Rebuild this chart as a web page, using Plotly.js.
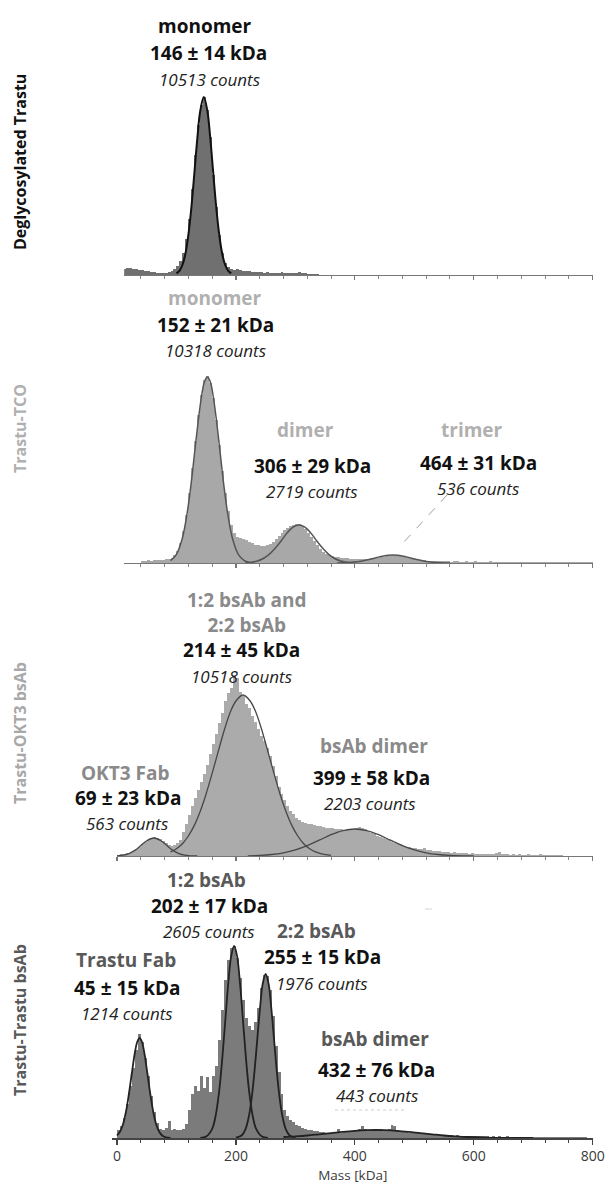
<!DOCTYPE html>
<html><head><meta charset="utf-8">
<script src="https://cdn.plot.ly/plotly-3.0.1.min.js"></script>
<style>html,body{margin:0;padding:0;background:#fff}#chart{width:606px;height:1184px}</style>
</head><body><div id="chart"></div>
<script>
// ---------------- DATA ----------------
const massTicks = [0, 200, 400, 600, 800];
const binWidth = 5;                 // kDa per histogram bin
const firstBinCenter = [12.5, 42.5, 2.5, 2.5];

// histogram heights (relative counts) per panel
const histDeglyco = [6,7,7,6,6,5,5,4,4,3, 3,2,2,2,2,3,4,6,9,14,
  22,36,56,86,120,150,170,178,165,138, 100,68,40,22,12,8,6,5,6,5,
  4,4,4,3,3,3,3,2,3,2, 2,2,2,3,2,2,2,2,2,3, 2,2,1,1,1,1];
const histTCO = [2,2,3,2,3,3,3,3,4,4, 5,8,12,20,32,48,70,95,122,148,
  168,183,187,180,165,143,118,92,70,52, 38,30,26,25,24,23,21,20,18,18,
  17,17,18,19,21,24,27,30,33,35, 37,38,39,39,37,34,30,26,22,18,
  14,11,9,8,7,6,6,5,5,5, 4,4,4,4,4,4,4,5,5,5,
  6,6,7,7,8,8,7,7,6,6, 5,4,4,3,3,3,2,2,2,2,
  2,2,2,2,1,2,2,1,1,2, 1,1,2,1,1,1,1,2,1,1,
  1,1,1,1,1,1,1,1,1,1, 1,1,1,1,1,1,1,1,1,1, 1,1,1,1,1,1,1,1,1,1,1,1];
const histOKT3 = [1,2,2,3,3,5,7,9,12,14, 16,18,19,18,17,15,13,11,10,11,
  13,16,24,32,41,50,58,66,74,82, 91,102,112,122,133,143,155,163,168,181,
  178,164,160,152,148,140,134,127,120,115, 108,100,90,80,69,62,56,50,45,42,
  38,36,34,33,32,32,31,30,30,29, 28,28,28,27,27,27,26,27,27,27,
  28,29,28,27,25,23,22,20,19,18, 17,16,14,13,12,12,10,9,9,8,
  8,7,7,8,6,6,5,5,5,4, 4,4,3,4,3,3,3,3,2,3,
  2,2,2,2,2,2,2,3,4,2, 2,2,1,2,1,2,1,1,2,1, 1,1,2,1,1,1,1,1,1,1];
const histTrastu = [8,12,20,34,52,70,88,104,96,80, 62,42,26,15,9,8,10,17,8,9,
  8,8,9,14,28,44,52,47,62,50, 61,46,62,72,98,128,158,178,190,192,
  180,160,138,120,112,108,116,130,150,163, 162,148,122,92,66,44,28,22,18,16,
  13,12,10,9,8,8,7,7,6,6, 5,5,5,6,9,5,6,6,7,7,
  8,9,12,9,8,7,8,8,9,8, 8,9,13,12,8,7,6,6,5,6,
  5,5,4,4,4,4,3,3,3,3, 3,3,3,2,3,2,2,2,2,2,
  2,2,2,2,2,1,2,1,2,1, 1,2,1,1,1,1,1,1,1,1,
  1,1,1,1,1,1,1,1,1,1, 1,1,1,1,1,1,1,1,0,0];

// Gaussian fit curves: [mass kDa], [height]
const fitMonoDeglyco = {x:[100,105,110,115,120,125,130,135,140,146,152,157,162,167,172,177,182,187,192],
  y:[1.6,4.2,10,21,40,67,101,136,164,178,164,136,101,67,40,21,10,4.2,1.6]};
const fitMonoTCO = {x:[90,100,110,118,125,131,137,142,147,152,157,162,167,173,179,186,194,204,214,222],
  y:[2.4,8.7,25,50,81,113,144,166,181,186,181,166,144,113,81,50,25,8.7,2.4,0.7]};
const fitDimerTCO = {x:[216,226,236,246,256,266,276,286,296,306,316,326,336,346,356,366,376,386,396],
  y:[0.3,0.8,2,4.5,8.6,14.7,22,30,35.8,38,35.8,30,22,14.7,8.6,4.5,2,0.8,0.3]};
const fitTrimerTCO = {x:[370,390,404,424,444,464,484,504,524,544,560],
  y:[0.1,0.5,1.2,3.5,6.5,8,6.5,3.5,1.2,0.3,0.1]};
const fitFabOKT3 = {x:[0,10,20,30,40,50,62,74,84,94,104,114,124,135],
  y:[0.2,0.8,2.4,5.6,10.4,15.3,18,15.3,10.4,5.6,2.4,0.8,0.2,0]};
const fitMainOKT3 = {x:[90,100,110,120,130,140,150,160,170,180,190,200,212,224,234,244,254,264,274,284,294,304,314,324,334,344,360],
  y:[4.1,7.3,12.3,20,30.6,44.8,62.3,82.6,104,125,143,155,161,155,143,125,104,82.6,62.3,44.8,30.6,20,12.3,7.3,4.1,2.2,0.7]};
const fitDimerOKT3 = {x:[220,240,260,280,300,320,340,360,380,400,420,440,460,480,500,520,540,560,580,600],
  y:[0.2,0.6,1.5,3.2,6.1,10.4,15.8,21.3,25.4,27,25.4,21.3,15.8,10.4,6.1,3.2,1.5,0.6,0.2,0.1]};
const fitFabTrastu = {x:[0,5,10,15,20,25,30,34,38,42,46,51,56,61,66,71,76,82,90],
  y:[2.5,6.2,13.5,26,44,65,85,96,100,96,85,65,44,26,13.5,6.2,2.5,0.7,0.1]};
const fit12Trastu = {x:[140,150,160,166,172,177,182,187,192,197,202,207,212,217,222,228,234,244,254],
  y:[0.1,1.4,9.2,22.6,47.8,79,116.5,154,181.6,192,181.6,154,116.5,79,47.8,22.6,9.2,1.4,0.1]};
const fit22Trastu = {x:[200,210,216,222,227,232,237,241,245,250,255,259,263,268,273,278,284,290,300],
  y:[0.3,2.8,8.6,22.2,42.5,71.7,106.6,133,154,164,154,133,106.6,71.7,42.5,22.2,8.6,2.8,0.3]};
const fitDimerTrastu = {x:[280,300,320,340,360,380,400,420,435,450,470,490,510,530,550,570,590,620,660,700],
  y:[1,1.65,2.5,3.7,4.9,6.2,7.2,7.8,8,7.8,7.2,6.2,4.9,3.7,2.5,1.65,1,0.4,0.1,0]};

// text
const panelTitles = ['Deglycosylated Trastu','Trastu-TCO','Trastu-OKT3 bsAb','Trastu-Trastu bsAb'];
const peakNames = [['monomer'],['monomer','dimer','trimer'],['1:2 bsAb and<br>2:2 bsAb','OKT3 Fab','bsAb dimer'],['Trastu Fab','1:2 bsAb','2:2 bsAb','bsAb dimer']];
const peakMasses = [['146 ± 14 kDa'],['152 ± 21 kDa','306 ± 29 kDa','464 ± 31 kDa'],['214 ± 45 kDa','69 ± 23 kDa','399 ± 58 kDa'],['45 ± 15 kDa','202 ± 17 kDa','255 ± 15 kDa','432 ± 76 kDa']];
const peakCounts = [['10513 counts'],['10318 counts','2719 counts','536 counts'],['10518 counts','563 counts','2203 counts'],['1214 counts','2605 counts','1976 counts','443 counts']];
const xTitle = 'Mass [kDa]';

// ---------------- LAYOUT / STYLE ----------------
const W = 606, H = 1184, PX0 = 117, PPK = 0.5946;
const xStart = [12, 12, 0, -8], xEnd = 801;
const baselines = [275, 563, 856, 1138], yTop = 200;
const px = (x) => x / W, py = (y) => 1 - y / H;

// label pixel positions: [nameX,nameY,massX,massY,countX,countY]
const labelPos = [
  [[205,26,208,53,210,79]],
  [[215,298,215,325,215,350],[305,430,312,466,312,491],[472,430,478,463,478,488]],
  [[247,612,241,650,241,676],[125,773,128,798,127,823],[374,746,371,778,370,803]],
  [[126,960,127,988,127,1013],[206,880,209,906,209,931],[317,931,322,957,322,983],[375,1039,376,1070,377,1095]]
];
const titlePos = [[20,162],[20,428],[20,733],[20,1020]];
const nameColors = ['#111111','#b0b0b0','#8a8a8a','#595959'];
const titleColors = ['#111111','#b0b0b0','#a8a8a8','#595959'];
const barColors = ['#707070','#a8a8a8','#ababab','#7b7b7b'];
const fitColors = ['#111111','#555555','#474747','#222222'];
const fitWidths = [2, 1.5, 1.3, 1.8];

const hists = [histDeglyco, histTCO, histOKT3, histTrastu];
const fits = [[fitMonoDeglyco],[fitMonoTCO, fitDimerTCO, fitTrimerTCO],[fitFabOKT3, fitMainOKT3, fitDimerOKT3],[fitFabTrastu, fit12Trastu, fit22Trastu, fitDimerTrastu]];

const traces = [];
hists.forEach((h, i) => {
  const ax = i === 0 ? '' : String(i + 1);
  traces.push({type:'bar', y:h, x0:firstBinCenter[i], dx:binWidth, width:binWidth,
    xaxis:'x'+ax, yaxis:'y'+ax, marker:{color:barColors[i], line:{width:0}}, hoverinfo:'skip', showlegend:false});
});
fits.forEach((list, i) => {
  const ax = i === 0 ? '' : String(i + 1);
  list.forEach(f => traces.push({type:'scatter', mode:'lines', x:f.x, y:f.y, xaxis:'x'+ax, yaxis:'y'+ax,
    line:{color:fitColors[i], width:fitWidths[i], shape:'spline', smoothing:1}, hoverinfo:'skip', showlegend:false}));
});

const layout = {width:W, height:H, margin:{l:0,r:0,t:0,b:0}, paper_bgcolor:'#fff', plot_bgcolor:'rgba(0,0,0,0)',
  bargap:0, barmode:'overlay', showlegend:false, font:{family:'"Open Sans", sans-serif'}, annotations:[], shapes:[]};

for (let i = 0; i < 4; i++) {
  const ax = i === 0 ? '' : String(i + 1);
  const last = i === 3;
  layout['xaxis'+ax] = {domain:[px(PX0 + xStart[i]*PPK), px(PX0 + xEnd*PPK)], range:[xStart[i], xEnd],
    anchor:'y'+ax, showgrid:false, zeroline:false, showline:true,
    linecolor: last ? '#444' : '#777', linewidth: last ? 1.6 : 1.1,
    ticks:'outside', tickmode:'array', tickvals:massTicks, ticklen: last ? 5 : 4, tickwidth:1.2, tickcolor: last ? '#444' : '#777',
    minor:{dtick:40, tick0:0, ticks:'outside', ticklen:3, tickcolor: last ? '#444' : '#888', tickwidth:1},
    showticklabels:last, tickfont:{size:14, color:'#3a3a3a'}, fixedrange:true};
  if (last) layout['xaxis'+ax].title = {text:xTitle, font:{size:13.5, color:'#3a3a3a'}, standoff:8};
  layout['yaxis'+ax] = {domain:[py(baselines[i]), py(baselines[i]-yTop)], range:[0, yTop], anchor:'x'+ax,
    visible:false, fixedrange:true};

  layout.annotations.push({xref:'paper', yref:'paper', x:px(titlePos[i][0]), y:py(titlePos[i][1]), text:'<b>'+panelTitles[i]+'</b>',
    textangle:-90, showarrow:false, xanchor:'center', yanchor:'middle', font:{size:16, color:titleColors[i]}});
  peakNames[i].forEach((nm, k) => {
    const p = labelPos[i][k];
    layout.annotations.push({xref:'paper', yref:'paper', x:px(p[0]), y:py(p[1]), text:'<b>'+nm+'</b>', showarrow:false,
      xanchor:'center', yanchor:'middle', font:{size:19, color:nameColors[i]}});
    layout.annotations.push({xref:'paper', yref:'paper', x:px(p[2]), y:py(p[3]), text:'<b>'+peakMasses[i][k]+'</b>', showarrow:false,
      xanchor:'center', yanchor:'middle', font:{size:19, color:'#111'}});
    layout.annotations.push({xref:'paper', yref:'paper', x:px(p[4]), y:py(p[5]), text:'<i>'+peakCounts[i][k]+'</i>', showarrow:false,
      xanchor:'center', yanchor:'middle', font:{size:17, color:'#222'}});
  });
}
// leader line (trimer) and faint marks
layout.shapes.push({type:'line', xref:'paper', yref:'paper', x0:px(447), y0:py(495), x1:px(403), y1:py(543), line:{color:'#a0a0a0', width:1, dash:'dash'}});
layout.shapes.push({type:'line', xref:'paper', yref:'paper', x0:px(335), y0:py(1110), x1:px(407), y1:py(1110), line:{color:'#dedede', width:1.5, dash:'dot'}});
layout.shapes.push({type:'line', xref:'paper', yref:'paper', x0:px(425), y0:py(909), x1:px(432), y1:py(909), line:{color:'#d5d5d5', width:1}});

Plotly.newPlot('chart', traces, layout, {displayModeBar:false, staticPlot:true});
</script></body></html>
